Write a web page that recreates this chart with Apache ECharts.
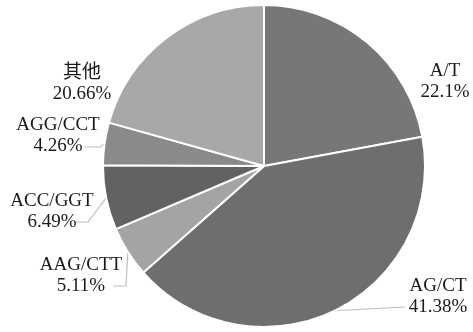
<!DOCTYPE html>
<html style="height: 100%">
<head>
<meta charset="utf-8">
<title>pie</title>
<script src="https://cdn.jsdelivr.net/npm/echarts@6/dist/echarts.min.js"></script>
</head>
<body style="margin: 0; background: #fff">
<div id="container" style="height: 332px; width: 473px;"></div>
<script type="text/javascript">

// slice names and percentages, clockwise from 12 o'clock
var names = ['A/T', 'AG/CT', 'AAG/CTT', 'ACC/GGT', 'AGG/CCT', '其他'];
var values = [22.1, 41.38, 5.11, 6.49, 4.26, 20.66];

var colors = ['#777777', '#6e6e6e', '#a4a4a4', '#626262', '#8a8a8a', '#a8a8a8'];

// where each label sits (center of the text block) and its leader line bends
var labelAt = [[445, 82], [438, 297], [81, 276], [52, 212], [58, 136], [82, 84]];
var lineBends = [
    null,
    [[405, 307]],
    [[126, 286], [113, 286]],
    [[88, 222], [76, 222]],
    [[100, 147], [84, 147]],
    null
];

var data = [];
for (var i = 0; i < names.length; i++) {
    data.push({
        name: names[i],
        value: values[i],
        itemStyle: {color: colors[i]},
        labelLine: {show: lineBends[i] != null}
    });
}

var myChart = echarts.init(document.getElementById('container'));

var option = {
    animation: false,
    series: [{
        type: 'pie',
        center: [264, 166],
        radius: 161,
        startAngle: 90,
        clockwise: true,
        avoidLabelOverlap: false,
        data: data,
        itemStyle: {
            borderColor: '#ffffff',
            borderWidth: 2
        },
        label: {
            show: true,
            position: 'outside',
            formatter: function (p) {
                return p.name + '\n' + p.value + '%';
            },
            fontFamily: "'Liberation Serif', 'Times New Roman', 'Noto Sans CJK SC', serif",
            fontSize: 19,
            lineHeight: 21,
            color: '#1a1a1a'
        },
        labelLine: {
            lineStyle: {color: '#bdbdbd', width: 1.2}
        },
        labelLayout: function (params) {
            var i = params.dataIndex;
            var out = {
                x: labelAt[i][0],
                y: labelAt[i][1],
                align: 'center',
                verticalAlign: 'middle'
            };
            if (lineBends[i] && params.labelLinePoints) {
                out.labelLinePoints = [params.labelLinePoints[0]].concat(lineBends[i]);
            }
            return out;
        }
    }]
};

myChart.setOption(option, true);

</script>
</body>
</html>
